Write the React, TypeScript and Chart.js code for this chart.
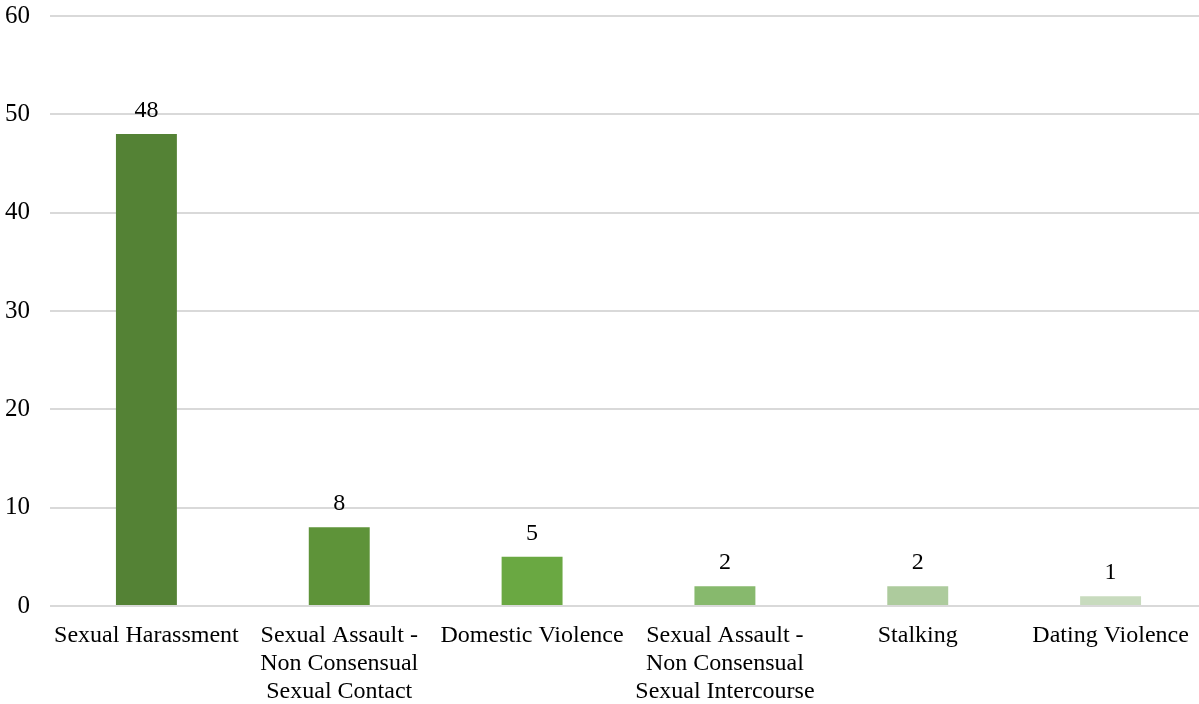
import React, { useEffect, useRef } from "react";
import { Chart, registerables } from "chart.js";

Chart.register(...registerables);

const categories: (string | string[])[] = [
  "Sexual Harassment",
  ["Sexual Assault -", "Non Consensual", "Sexual Contact"],
  "Domestic Violence",
  ["Sexual Assault -", "Non Consensual", "Sexual Intercourse"],
  "Stalking",
  "Dating Violence",
];
const values: number[] = [48, 8, 5, 2, 2, 1];
const barColors: string[] = ["#548235", "#5e9339", "#6aa842", "#87b96d", "#adcb9d", "#c8dbbe"];
const yTicks: number[] = [0, 10, 20, 30, 40, 50, 60];

const FONT = "'Liberation Serif', 'Times New Roman', serif";

const valueLabels = {
  id: "valueLabels",
  afterDatasetsDraw(chart: any) {
    const ctx = chart.ctx;
    const meta = chart.getDatasetMeta(0);
    ctx.save();
    ctx.font = `24px ${FONT}`;
    ctx.fillStyle = "#000";
    ctx.textAlign = "center";
    ctx.textBaseline = "alphabetic";
    meta.data.forEach((bar: any, i: number) => {
      ctx.fillText(String(values[i]), bar.x, bar.y - 17);
    });
    ctx.restore();
  },
};

export default function App() {
  const ref = useRef<HTMLCanvasElement | null>(null);
  useEffect(() => {
    if (!ref.current) return;
    const chart = new Chart(ref.current, {
      type: "bar",
      data: {
        labels: categories,
        datasets: [
          {
            data: values,
            backgroundColor: barColors,
            barPercentage: 0.316,
            categoryPercentage: 1,
          },
        ],
      },
      options: {
        responsive: false,
        animation: false,
        layout: { padding: { top: 16, right: 3, left: 0, bottom: 0 } },
        plugins: { legend: { display: false }, tooltip: { enabled: false } },
        scales: {
          x: {
            grid: { display: false, drawTicks: false },
            border: { display: false },
            ticks: {
              color: "#000",
              font: { family: FONT, size: 24, lineHeight: 1.1667 },
              padding: 16,
              maxRotation: 0,
              autoSkip: false,
            },
            afterFit: (s: any) => {
              s.height = 98;
              s.paddingLeft = 0;
              s.paddingRight = 0;
            },
          },
          y: {
            min: 0,
            max: 60,
            afterBuildTicks: (s: any) => {
              s.ticks = yTicks.map((v) => ({ value: v }));
            },
            grid: { color: "#d9d9d9", lineWidth: 2, drawTicks: false },
            border: { display: false },
            ticks: {
              color: "#000",
              font: { family: FONT, size: 25 },
              padding: 20,
            },
            afterFit: (s: any) => {
              s.width = 50;
              s.paddingTop = 0;
              s.paddingBottom = 0;
            },
          },
        },
      },
      plugins: [valueLabels],
    });
    return () => chart.destroy();
  }, []);
  return (
    <div style={{ position: "fixed", left: 0, top: 0, width: 1199, height: 704, overflow: "hidden", background: "#fff" }}>
      <canvas ref={ref} width={1210} height={704} style={{ display: "block" }} />
    </div>
  );
}
